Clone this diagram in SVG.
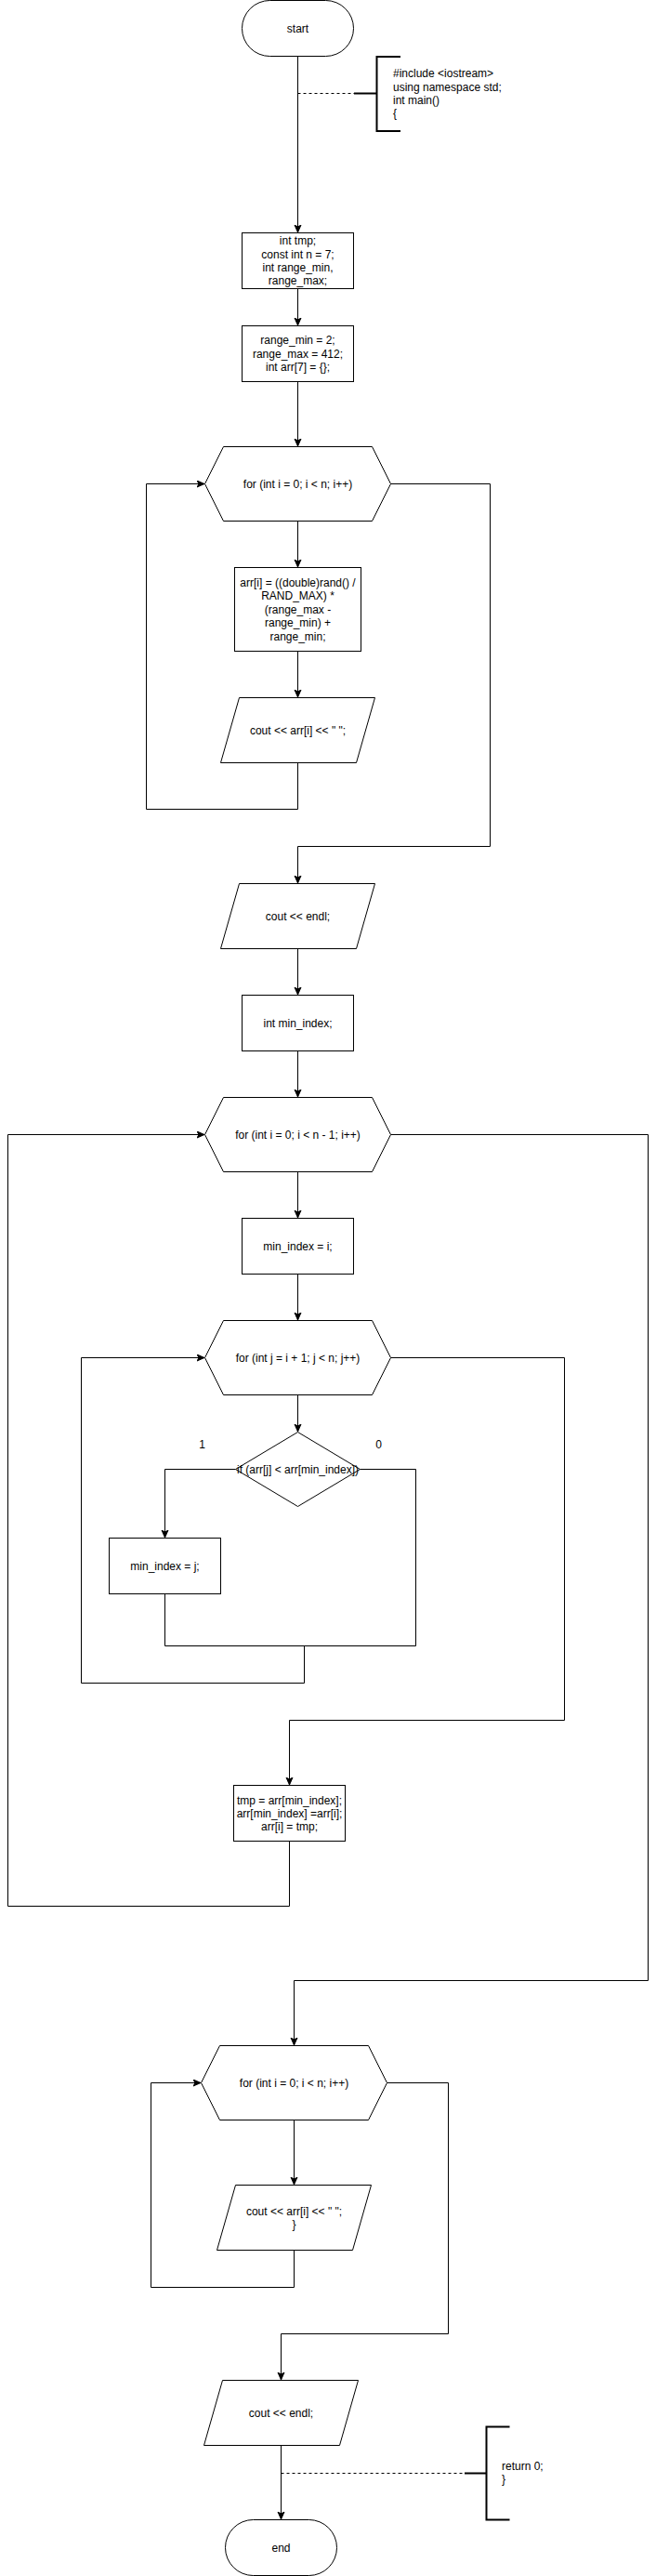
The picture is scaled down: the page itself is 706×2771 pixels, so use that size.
<svg xmlns="http://www.w3.org/2000/svg" width="706" height="2771" viewBox="0 0 706 2771">
<defs>
<style>
.n{fill:#fff;stroke:#000;stroke-width:1}
.c{fill:none;stroke:#000;stroke-width:1}
.d{fill:none;stroke:#000;stroke-width:1;stroke-dasharray:3,3}
.b{fill:none;stroke:#000;stroke-width:2}
text{font-family:"Liberation Sans",Arial,sans-serif;font-size:12px;fill:#000}
.m{text-anchor:middle}
</style>
<marker id="a" markerUnits="userSpaceOnUse" markerWidth="10" markerHeight="10" refX="8" refY="4" orient="auto">
<path d="M0,0.5 L8,4 L0,7.5 L2,4 Z" fill="#000" stroke="#000" stroke-width="1"/>
</marker>
</defs>
<rect width="706" height="2771" fill="#fff"/>

<g id="connectors">
<path class="c" d="M320.5,60.5 V250" marker-end="url(#a)"/>
<path class="d" d="M320.5,100.5 H381"/>
<path class="c" d="M320.5,310.5 V350" marker-end="url(#a)"/>
<path class="c" d="M320.5,410.5 V480" marker-end="url(#a)"/>
<path class="c" d="M320.5,560.5 V610" marker-end="url(#a)"/>
<path class="c" d="M320.5,700.5 V750" marker-end="url(#a)"/>
<path class="c" d="M320.5,820.5 V870.5 H157.5 V520.5 H220" marker-end="url(#a)"/>
<path class="c" d="M420.5,520.5 H527.5 V910.5 H320.5 V950" marker-end="url(#a)"/>
<path class="c" d="M320.5,1020.5 V1070" marker-end="url(#a)"/>
<path class="c" d="M320.5,1130.5 V1180" marker-end="url(#a)"/>
<path class="c" d="M320.5,1260.5 V1310" marker-end="url(#a)"/>
<path class="c" d="M320.5,1370.5 V1420" marker-end="url(#a)"/>
<path class="c" d="M320.5,1500.5 V1540" marker-end="url(#a)"/>
<path class="c" d="M253.5,1580.5 H177.5 V1654" marker-end="url(#a)"/>
<path class="c" d="M387.5,1580.5 H447.5 V1770.5"/>
<path class="c" d="M177.5,1714.5 V1770.5 H447.5"/>
<path class="c" d="M327.5,1770.5 V1810.5 H87.5 V1460.5 H220" marker-end="url(#a)"/>
<path class="c" d="M420.5,1460.5 H607.5 V1850.5 H311.5 V1920" marker-end="url(#a)"/>
<path class="c" d="M311.5,1980.5 V2050.5 H8.5 V1220.5 H220" marker-end="url(#a)"/>
<path class="c" d="M420.5,1220.5 H697.5 V2130.5 H316.5 V2200" marker-end="url(#a)"/>
<path class="c" d="M316.5,2280.5 V2350" marker-end="url(#a)"/>
<path class="c" d="M316.5,2420.5 V2460.5 H162.5 V2240.5 H216" marker-end="url(#a)"/>
<path class="c" d="M416.5,2240.5 H482.5 V2510.5 H302.5 V2560" marker-end="url(#a)"/>
<path class="c" d="M302.5,2630.5 V2710" marker-end="url(#a)"/>
<path class="d" d="M302.5,2660.5 H500"/>
</g>

<g id="start">
<rect class="n" x="260.5" y="0.5" width="120" height="60" rx="30" ry="30"/>
<text class="m" x="320.5" y="34.5">start</text>
</g>

<g id="note1">
<path class="b" d="M381,100.5 H405.5"/>
<path class="b" d="M431,61 H405.5 V141 H431"/>
<text x="423" y="83.2">#include &lt;iostream&gt;</text>
<text x="423" y="97.6">using namespace std;</text>
<text x="423" y="112">int main()</text>
<text x="423" y="126.4">{</text>
</g>

<g id="decl">
<rect class="n" x="260.5" y="250.5" width="120" height="60"/>
<text class="m" x="320.5" y="263.1">int tmp;</text>
<text class="m" x="320.5" y="277.5">const int n = 7;</text>
<text class="m" x="320.5" y="291.9">int range_min,</text>
<text class="m" x="320.5" y="306.3">range_max;</text>
</g>

<g id="init">
<rect class="n" x="260.5" y="350.5" width="120" height="60"/>
<text class="m" x="320.5" y="370.3">range_min = 2;</text>
<text class="m" x="320.5" y="384.7">range_max = 412;</text>
<text class="m" x="320.5" y="399.1">int arr[7] = {};</text>
</g>

<g id="for1">
<polygon class="n" points="240.5,480.5 400.5,480.5 420.5,520.5 400.5,560.5 240.5,560.5 220.5,520.5"/>
<text class="m" x="320.5" y="524.7">for (int i = 0; i &lt; n; i++)</text>
</g>

<g id="rand">
<rect class="n" x="252.5" y="610.5" width="136" height="90"/>
<text class="m" x="320.5" y="630.9">arr[i] = ((double)rand() /</text>
<text class="m" x="320.5" y="645.3">RAND_MAX) *</text>
<text class="m" x="320.5" y="659.7">(range_max -</text>
<text class="m" x="320.5" y="674.1">range_min) +</text>
<text class="m" x="320.5" y="688.5">range_min;</text>
</g>

<g id="out1">
<polygon class="n" points="257.5,750.5 403.5,750.5 383.5,820.5 237.5,820.5"/>
<text class="m" x="320.5" y="789.7">cout &lt;&lt; arr[i] &lt;&lt; " ";</text>
</g>

<g id="endl1">
<polygon class="n" points="257.5,950.5 403.5,950.5 383.5,1020.5 237.5,1020.5"/>
<text class="m" x="320.5" y="989.7">cout &lt;&lt; endl;</text>
</g>

<g id="minidx">
<rect class="n" x="260.5" y="1070.5" width="120" height="60"/>
<text class="m" x="320.5" y="1104.7">int min_index;</text>
</g>

<g id="for2">
<polygon class="n" points="240.5,1180.5 400.5,1180.5 420.5,1220.5 400.5,1260.5 240.5,1260.5 220.5,1220.5"/>
<text class="m" x="320.5" y="1224.7">for (int i = 0; i &lt; n - 1; i++)</text>
</g>

<g id="setmin_i">
<rect class="n" x="260.5" y="1310.5" width="120" height="60"/>
<text class="m" x="320.5" y="1344.7">min_index = i;</text>
</g>

<g id="for3">
<polygon class="n" points="240.5,1420.5 400.5,1420.5 420.5,1460.5 400.5,1500.5 240.5,1500.5 220.5,1460.5"/>
<text class="m" x="320.5" y="1464.7">for (int j = i + 1; j &lt; n; j++)</text>
</g>

<g id="cond">
<polygon class="n" points="320.5,1540.5 387.5,1580.5 320.5,1620.5 253.5,1580.5"/>
<text class="m" x="320.5" y="1584.7">if (arr[j] &lt; arr[min_index])</text>
<text class="m" x="217.5" y="1558.2">1</text>
<text class="m" x="407.5" y="1558.2">0</text>
</g>

<g id="setmin_j">
<rect class="n" x="117.5" y="1654.5" width="120" height="60"/>
<text class="m" x="177.5" y="1688.7">min_index = j;</text>
</g>

<g id="swap">
<rect class="n" x="251.5" y="1920.5" width="120" height="60"/>
<text class="m" x="311.5" y="1940.5">tmp = arr[min_index];</text>
<text class="m" x="311.5" y="1954.9">arr[min_index] =arr[i];</text>
<text class="m" x="311.5" y="1969.3">arr[i] = tmp;</text>
</g>

<g id="for4">
<polygon class="n" points="236.5,2200.5 396.5,2200.5 416.5,2240.5 396.5,2280.5 236.5,2280.5 216.5,2240.5"/>
<text class="m" x="316.5" y="2244.7">for (int i = 0; i &lt; n; i++)</text>
</g>

<g id="out2">
<polygon class="n" points="253.5,2350.5 399.5,2350.5 379.5,2420.5 233.5,2420.5"/>
<text class="m" x="316.5" y="2382.5">cout &lt;&lt; arr[i] &lt;&lt; " ";</text>
<text class="m" x="316.5" y="2396.9">}</text>
</g>

<g id="endl2">
<polygon class="n" points="239.5,2560.5 385.5,2560.5 365.5,2630.5 219.5,2630.5"/>
<text class="m" x="302.5" y="2599.7">cout &lt;&lt; endl;</text>
</g>

<g id="note2">
<path class="b" d="M500,2660.5 H523.5"/>
<path class="b" d="M548.5,2610.5 H523.5 V2710.5 H548.5"/>
<text x="540" y="2657">return 0;</text>
<text x="540" y="2671.4">}</text>
</g>

<g id="end">
<rect class="n" x="242.5" y="2710.5" width="120" height="60" rx="30" ry="30"/>
<text class="m" x="302.5" y="2744.7">end</text>
</g>
</svg>
